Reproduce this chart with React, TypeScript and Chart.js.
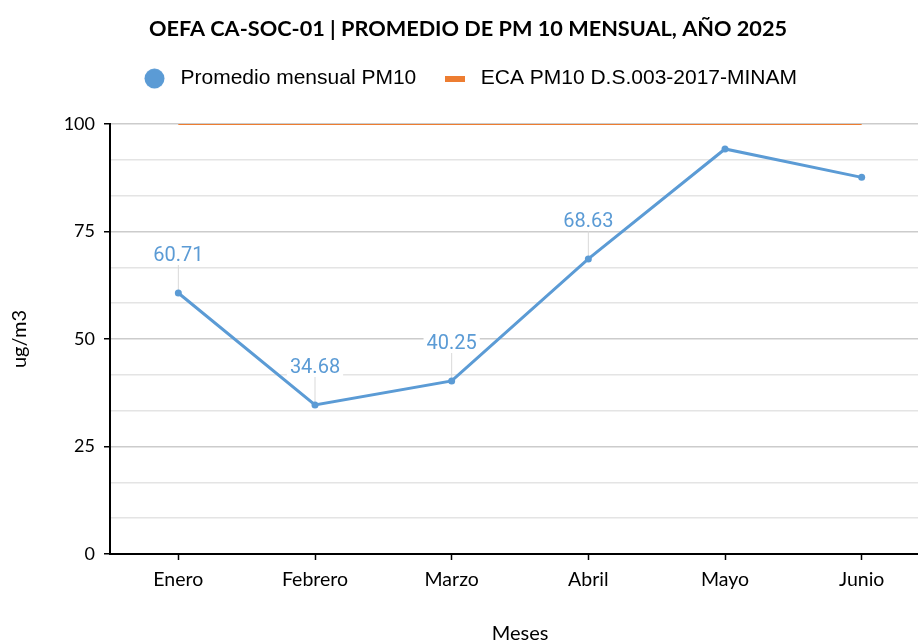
import React, { useEffect, useRef } from "react";
import { Chart, registerables } from "chart.js";

Chart.register(...registerables);

const categories = ["Enero", "Febrero", "Marzo", "Abril", "Mayo", "Junio"];
const pm10Values = [60.71, 34.68, 40.25, 68.63, 94.2, 87.6];
const ecaValues = [100, 100, 100, 100, 100, 100];
const showLabel = [true, true, true, true, false, false];
const yMajorTicks = [0, 25, 50, 75, 100];
const minorDivisions = 3;

const BLUE = "#5B9BD5";
const ORANGE = "#ED7D31";

const isMajor = (v: number) => yMajorTicks.some((m) => Math.abs(m - v) < 1e-6);

const labelsPlugin = {
  id: "pointLabels",
  beforeDatasetsDraw(chart: any) {
    const meta = chart.getDatasetMeta(0);
    const ctx = chart.ctx;
    ctx.save();
    ctx.strokeStyle = "#d9d9d9";
    ctx.lineWidth = 1;
    meta.data.forEach((pt: any, i: number) => {
      if (!showLabel[i]) return;
      ctx.beginPath();
      ctx.moveTo(pt.x, pt.y - 28);
      ctx.lineTo(pt.x, pt.y);
      ctx.stroke();
    });
    ctx.restore();
  },
  afterDatasetsDraw(chart: any) {
    const meta = chart.getDatasetMeta(0);
    const ctx = chart.ctx;
    ctx.save();
    ctx.font = "20px Roboto";
    ctx.textAlign = "center";
    ctx.textBaseline = "middle";
    meta.data.forEach((pt: any, i: number) => {
      if (!showLabel[i]) return;
      const txt = pm10Values[i].toFixed(2);
      const w = ctx.measureText(txt).width;
      const ly = pt.y - 39;
      ctx.fillStyle = "#ffffff";
      ctx.fillRect(pt.x - w / 2 - 3, ly - 11, w + 6, 22);
      ctx.fillStyle = BLUE;
      ctx.fillText(txt, pt.x, ly + 2);
    });
    ctx.restore();
  },
};

function makeCircle(color: string, r: number) {
  const c = document.createElement("canvas");
  c.width = r * 2 + 1;
  c.height = r * 2 + 1;
  const g = c.getContext("2d")!;
  g.fillStyle = color;
  g.beginPath();
  g.arc(c.width / 2, c.height / 2, r, 0, Math.PI * 2);
  g.fill();
  return c;
}

function makeBar(color: string, w: number, h: number) {
  const c = document.createElement("canvas");
  c.width = w;
  c.height = h;
  const g = c.getContext("2d")!;
  g.fillStyle = color;
  g.fillRect(0, 0, w, h);
  return c;
}

export default function App() {
  const ref = useRef<HTMLCanvasElement>(null);

  useEffect(() => {
    if (!ref.current) return;
    const circleImg = makeCircle(BLUE, 10);
    const barImg = makeBar(ORANGE, 20, 6);

    const chart = new Chart(ref.current, {
      type: "line",
      data: {
        labels: categories,
        datasets: [
          {
            label: "Promedio mensual PM10",
            data: pm10Values,
            borderColor: BLUE,
            backgroundColor: BLUE,
            borderWidth: 3,
            pointRadius: 3.5,
            pointBackgroundColor: BLUE,
            pointBorderWidth: 0,
            tension: 0,
            order: 1,
          },
          {
            label: "ECA PM10 D.S.003-2017-MINAM",
            data: ecaValues,
            borderColor: ORANGE,
            backgroundColor: ORANGE,
            borderWidth: 2,
            pointRadius: 0,
            tension: 0,
            order: 2,
          },
        ],
      },
      options: {
        responsive: false,
        maintainAspectRatio: false,
        animation: false,
        devicePixelRatio: 1,
        layout: { padding: { left: 4, right: 2, top: 0, bottom: 0 } },
        plugins: {
          title: {
            display: true,
            text: "OEFA CA-SOC-01 | PROMEDIO DE PM 10 MENSUAL, AÑO 2025",
            color: "#000",
            font: { family: "Lato", size: 21.7, weight: "bold" },
            padding: { top: 16, bottom: 3 },
          },
          subtitle: {
            display: true,
            text: " ",
            weight: 500,
            font: { size: 1, lineHeight: 1 },
            padding: { top: 0, bottom: 24 },
          },
          legend: {
            display: true,
            labels: {
              usePointStyle: true,
              pointStyleWidth: 31,
              boxHeight: 14,
              padding: 23,
              color: "#262626",
              font: { family: "Liberation Sans", size: 21 },
              generateLabels: () => [
                {
                  text: "Promedio mensual PM10",
                  fillStyle: BLUE,
                  strokeStyle: BLUE,
                  lineWidth: 0,
                  pointStyle: circleImg,
                  hidden: false,
                  datasetIndex: 0,
                },
                {
                  text: "ECA PM10 D.S.003-2017-MINAM",
                  fillStyle: ORANGE,
                  strokeStyle: ORANGE,
                  lineWidth: 0,
                  pointStyle: barImg,
                  hidden: false,
                  datasetIndex: 1,
                },
              ],
            },
          },
          tooltip: { enabled: false },
        },
        scales: {
          x: {
            offset: true,
            border: { display: true, color: "#000", width: 2 },
            grid: {
              display: true,
              drawOnChartArea: false,
              drawTicks: true,
              tickLength: 6,
              tickColor: "#000",
              tickWidth: 1.5,
            },
            ticks: {
              color: "#000",
              font: { family: "Lato", size: 19.5 },
              padding: 8,
            },
            title: {
              display: true,
              text: "Meses",
              color: "#000",
              font: { family: "Lato", size: 20, lineHeight: 1 },
              padding: { top: 20, bottom: -3 },
            },
            afterFit: (s: any) => {
              s.height = 87;
            },
          },
          y: {
            min: 0,
            max: 100,
            border: { display: true, color: "#000", width: 2 },
            afterBuildTicks: (s: any) => {
              const t: { value: number }[] = [];
              for (let k = 0; k < yMajorTicks.length - 1; k++) {
                const a = yMajorTicks[k];
                const b = yMajorTicks[k + 1];
                for (let j = 0; j < minorDivisions; j++) {
                  t.push({ value: a + ((b - a) * j) / minorDivisions });
                }
              }
              t.push({ value: yMajorTicks[yMajorTicks.length - 1] });
              s.ticks = t;
            },
            grid: {
              color: (c: any) => (isMajor(c.tick.value) ? "#cccccc" : "#e4e4e4"),
              lineWidth: 1.5,
              tickLength: 6,
              tickColor: (c: any) => (isMajor(c.tick.value) ? "#000" : "rgba(0,0,0,0)"),
              tickWidth: 1.5,
            },
            ticks: {
              autoSkip: false,
              color: "#000",
              font: { family: "Lato", size: 18 },
              padding: 9,
              callback: (v: any) => (isMajor(Number(v)) ? String(Math.round(Number(v))) : ""),
            },
            title: {
              display: true,
              text: "ug/m3",
              color: "#000",
              font: { family: "Lato", size: 20 },
              padding: { top: 4, bottom: 0 },
            },
            afterFit: (s: any) => {
              s.width = 106;
            },
          },
        },
      },
      plugins: [labelsPlugin],
    });
    return () => chart.destroy();
  }, []);

  return (
    <div
      style={{
        position: "absolute",
        left: 0,
        top: 0,
        width: 918,
        height: 641,
        overflow: "hidden",
        background: "#fff",
      }}
    >
      <canvas ref={ref} width={934} height={641} />
    </div>
  );
}
